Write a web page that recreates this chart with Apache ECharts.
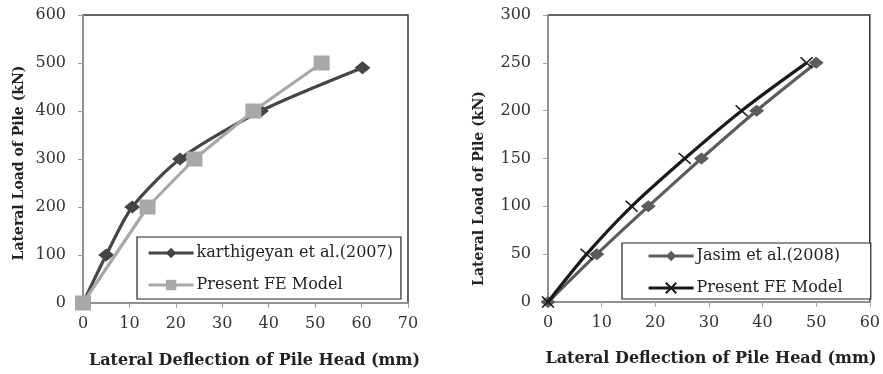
<!DOCTYPE html>
<html>
<head>
<meta charset="utf-8">
<script src="https://cdn.jsdelivr.net/npm/echarts@6/dist/echarts.min.js"></script>
<style>
html,body{margin:0;padding:0;background:#fff;}
#chart{width:883px;height:374px;}
</style>
</head>
<body>
<div id="chart"></div>
<script>
// Left panel data
var karthigeyanX = [0, 5, 10.6, 20.9, 38.3, 60.2];
var karthigeyanY = [0, 100, 200, 300, 400, 490];
var presentLeftX = [0, 13.9, 24.0, 36.7, 51.4];
var presentLeftY = [0, 200, 300, 400, 500];
// Right panel data
var jasimX = [0, 9.1, 18.7, 28.6, 38.9, 50.0];
var jasimY = [0, 50, 100, 150, 200, 250];
var presentRightX = [0, 7.2, 15.6, 25.5, 36.1, 48.2];
var presentRightY = [0, 50, 100, 150, 200, 250];
// Axis ticks
var leftXTicks = [0, 10, 20, 30, 40, 50, 60, 70];
var leftYTicks = [0, 100, 200, 300, 400, 500, 600];
var rightXTicks = [0, 10, 20, 30, 40, 50, 60];
var rightYTicks = [0, 50, 100, 150, 200, 250, 300];

var names = {
  k: 'karthigeyan et al.(2007)',
  pl: 'Present FE Model',
  j: 'Jasim et al.(2008)',
  pr: 'Present FE Model '
};
var xTitle = 'Lateral Deflection of Pile Head (mm)';
var yTitle = 'Lateral Load of Pile (kN)';

function pairs(xs, ys) { return xs.map(function (x, i) { return [x, ys[i]]; }); }

var FONT = 'DejaVu Serif';
var labelStyle = { fontFamily: FONT, fontSize: 16, color: '#333' };

function xAxisDef(idx, ticks, nameStyle) {
  return {
    type: 'value', gridIndex: idx,
    min: ticks[0], max: ticks[ticks.length - 1], interval: ticks[1] - ticks[0],
    name: xTitle, nameLocation: 'middle', nameGap: nameStyle.gap,
    nameTextStyle: { fontFamily: FONT, fontWeight: 'bold', fontSize: 16, color: '#222', padding: nameStyle.pad },
    axisLine: { lineStyle: { color: '#a0a0a0', width: 1.5 } },
    axisTick: { show: true, inside: false, length: 5, lineStyle: { color: '#a0a0a0' } },
    axisLabel: Object.assign({ margin: 13 }, labelStyle),
    splitLine: { show: false }
  };
}
function yAxisDef(idx, ticks, nameStyle) {
  return {
    type: 'value', gridIndex: idx,
    min: ticks[0], max: ticks[ticks.length - 1], interval: ticks[1] - ticks[0],
    name: yTitle, nameLocation: 'middle', nameGap: nameStyle.gap, nameRotate: 90,
    nameTextStyle: { fontFamily: FONT, fontWeight: 'bold', fontSize: 14, color: '#222', padding: nameStyle.pad },
    axisLine: { show: true, lineStyle: { color: '#a0a0a0', width: 1.5 } },
    axisTick: { show: true, inside: false, length: 5, lineStyle: { color: '#a0a0a0' } },
    axisLabel: Object.assign({ margin: 17 }, labelStyle),
    splitLine: { show: false }
  };
}

var crossPath = 'path://M0,0L10,10M0,10L10,0';

var legendCommon = {
  orient: 'vertical',
  backgroundColor: '#fff',
  borderColor: '#222',
  borderWidth: 1.2,
  borderRadius: 0,
  itemWidth: 45,
  itemHeight: 13,
  itemGap: 16,
  lineStyle: { width: 3.2 },
  textStyle: { fontFamily: FONT, fontSize: 16, color: '#222', padding: [0, 0, 0, -2] }
};

var option = {
  backgroundColor: '#fff',
  animation: false,
  grid: [
    { left: 83, top: 15, width: 325, height: 289, show: true, borderColor: '#333', borderWidth: 1.5, containLabel: false },
    { left: 548, top: 15, width: 322, height: 287, show: true, borderColor: '#333', borderWidth: 1.5, containLabel: false }
  ],
  xAxis: [
    xAxisDef(0, leftXTicks, { gap: 50, pad: [0, 0, 0, 18] }),
    xAxisDef(1, rightXTicks, { gap: 49, pad: [0, 0, 0, 4] })
  ],
  yAxis: [
    yAxisDef(0, leftYTicks, { gap: 57, pad: [0, 8, 0, 0] }),
    yAxisDef(1, rightYTicks, { gap: 62, pad: [0, 60, 0, 0] })
  ],
  legend: [
    Object.assign({}, legendCommon, { left: 137, top: 237, padding: [8, 8, 6, 10], data: [names.k, names.pl] }),
    Object.assign({}, legendCommon, { left: 622, top: 243, padding: [5, 23, 3, 25], data: [names.j, names.pr] })
  ],
  series: [
    {
      name: names.k, type: 'line', xAxisIndex: 0, yAxisIndex: 0,
      data: pairs(karthigeyanX, karthigeyanY), smooth: 0.25,
      symbol: 'diamond', symbolSize: [16, 13], showAllSymbol: true,
      lineStyle: { color: '#454545', width: 3.2 },
      itemStyle: { color: '#454545' }, z: 2
    },
    {
      name: names.pl, type: 'line', xAxisIndex: 0, yAxisIndex: 0,
      data: pairs(presentLeftX, presentLeftY), smooth: false,
      symbol: 'rect', symbolSize: [16, 15],
      lineStyle: { color: '#a8a8a8', width: 3.2 },
      itemStyle: { color: '#a8a8a8' }, z: 3
    },
    {
      name: names.j, type: 'line', xAxisIndex: 1, yAxisIndex: 1,
      data: pairs(jasimX, jasimY), smooth: 0.2,
      symbol: 'diamond', symbolSize: [15, 12],
      lineStyle: { color: '#5c5c5c', width: 3.2 },
      itemStyle: { color: '#5c5c5c' }, z: 2
    },
    {
      name: names.pr, type: 'line', xAxisIndex: 1, yAxisIndex: 1,
      data: pairs(presentRightX, presentRightY), smooth: 0.3,
      symbol: crossPath, symbolSize: [12, 11],
      lineStyle: { color: '#1a1a1a', width: 3.2 },
      itemStyle: { color: '#1a1a1a', borderColor: '#1a1a1a', borderWidth: 1.6 }, z: 3
    }
  ]
};

var chart = echarts.init(document.getElementById('chart'), null, { renderer: 'canvas' });
chart.setOption(option);
</script>
</body>
</html>
